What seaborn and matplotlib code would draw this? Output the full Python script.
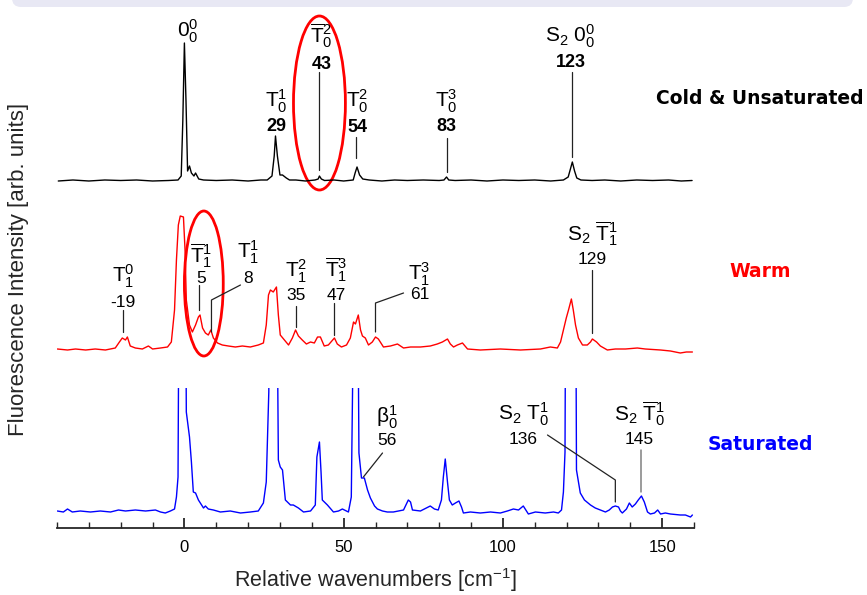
import numpy as np
import pandas as pd
import matplotlib
matplotlib.use("Agg")
import matplotlib.pyplot as plt
import seaborn as sns
from matplotlib.patches import Ellipse, FancyBboxPatch
from matplotlib.ticker import MultipleLocator
from matplotlib.transforms import IdentityTransform

# ---------------- data ----------------
cold_wn = [-39.6, -35, -30, -25, -20, -15, -10, -5, -2, -1, -0.5, 0, 0.5, 1, 1.6, 2.2, 3, 3.5, 4.5, 6,
           10, 15, 20, 24, 26, 27.5, 28.2, 28.6, 29.2, 30, 30.8, 32, 33, 35, 38, 41, 42, 42.4, 43, 44,
           47, 50, 53, 53.6, 54.2, 55, 56, 58, 62, 66, 70, 75, 80, 81.5, 82.3, 83, 85, 90, 95, 100,
           105, 110, 115, 119, 120.5, 121.2, 121.8, 122.5, 123.2, 124.5, 128, 132, 137, 142, 147, 152, 156, 159.4]
cold_int = [0, 1, 0, 1, 0.5, 1, 0, 0.5, 1, 5, 60, 138, 80, 10, 15, 8, 5, 8, 2, 1,
            0.5, 1, 0, 1, 1, 5, 25, 45, 25, 6, 6, 3, 1, 1, 0, 1, 2, 5, 2, 0.5,
            1, 0, 1, 8, 14, 6, 2, 1, 0, 1, 0.5, 1, 0.5, 1, 4, 1, 0.5, 1, 0, 1,
            0.5, 1, 0, 1, 4, 12, 19, 10, 3, 1, 0.5, 1, 0, 1, 0.5, 1, 0, 0.5]

warm_wn = [-39.9, -36.7, -34.2, -31, -28, -24.8, -21.7, -20.4, -19.5, -18.5,
           -17.9, -17, -15.4, -13.2, -11.3, -10, -7.5, -5.3, -4.1, -3.1,
           -2.5, -1.9, -1.3, -0.3, 0.2, 0.6, 1.6, 2.5, 3.5, 4.4,
           4.9, 5.7, 6.6, 7.5, 8.3, 9.1, 10.4, 11.9, 13.8, 16,
           18.2, 20.7, 23.2, 24.8, 25.7, 26.4, 27, 27.9, 28.9, 29.5,
           30.1, 31.4, 32.7, 33.9, 34.9, 35.8, 37, 38.3, 39.6, 40.8,
           41.8, 42.7, 43.9, 45.2, 47.1, 48, 49.3, 50.9, 52.1, 53.1,
           53.7, 54.6, 55.3, 55.9, 56.8, 57.8, 59, 60, 60.9, 62.5,
           64.7, 66.9, 68.8, 71, 74.1, 77.2, 79.4, 81, 82.6, 83.5,
           84.5, 85.7, 87.3, 88.9, 92.9, 99.2, 105.5, 111.8, 114.9, 117.1,
           118.1, 119, 119.9, 120.6, 121.5, 122.1, 122.8, 123.7, 125, 126.5,
           127.5, 128.1, 129.4, 130.6, 132.8, 135.3, 138.5, 142.2, 144.7, 149.5,
           152.6, 155.7, 157.6, 159.5]
warm_int = [1, 0, 1, 0, 1, 0, 2, 8, 12, 10,
            13, 4, 2, 1, 4, 1, 2, 3, 8, 40,
            90, 125, 134, 133, 100, 50, 25, 18, 25, 33,
            35, 22, 17, 15, 20, 12, 7, 5, 4, 3,
            4, 3, 5, 7, 25, 55, 60, 58, 63, 35,
            15, 10, 5, 12, 20, 14, 10, 6, 8, 7,
            13, 13, 4, 5, 12, 6, 3, 5, 12, 28,
            26, 35, 20, 14, 12, 5, 8, 13, 11, 3,
            4, 6, 2, 3, 3, 4, 6, 8, 11, 6,
            3, 5, 7, 1, 0, 1, 0, 1, 3, 2,
            8, 20, 32, 40, 51, 40, 25, 12, 5, 5,
            8, 11, 8, 4, 0, 1, 1, 2, 1, 0,
            -1, -3, -2, -2]

sat_wn = [-39.9, -38, -36.7, -35.2, -32.7, -29.5, -26.4, -23.2, -20.7, -18.5,
          -15.4, -12.2, -9.1, -7.5, -6, -4.4, -3.1, -2.5, -2, -1.6,
          -0.3, 0.3, 0.6, 1.6, 2.2, 2.8, 3.5, 4.4, 5, 6,
          6.6, 7.5, 9.1, 11.3, 14.4, 17.6, 20.7, 23.2, 24.8, 25.7,
          26.5, 27, 28.9, 29.5, 30.1, 30.8, 31.7, 33.3, 34.2, 35.8,
          37.4, 39.6, 41.1, 41.6, 42.4, 42.9, 43.3, 44.9, 46.8, 48.4,
          49.6, 51.5, 52.4, 52.9, 53.4, 54.3, 54.8, 55.6, 56.5, 57.5,
          58.4, 59.7, 60.6, 62.2, 63.7, 65.6, 67.2, 68.8, 69.4, 70.3,
          71, 71.6, 74.1, 76, 77.2, 78.5, 79.7, 80.7, 81.3, 81.9,
          82.6, 83.2, 84.1, 85.1, 86.2, 87, 87.6, 89.8, 92.9, 96.1,
          99.2, 101.4, 103.3, 104.9, 106.4, 108, 110.2, 113.3, 115.9, 117.4,
          118.4, 119, 119.5, 119.9, 122.8, 123.1, 124.3, 125.6, 127.5, 129,
          130.6, 132.2, 133.4, 134.4, 135.3, 136.3, 136.9, 137.5, 138.8, 139.7,
          140.6, 141.6, 142.5, 143.5, 144.4, 145.4, 146.3, 147.6, 148.6, 149.5,
          151, 152.6, 155.7, 157.3, 158.9, 159.5]
sat_int = [1, 0, 3, 0, 1, 0, 1, 0, 2, 1,
           2, 1, 2, 0, -1, 1, 3, 15, 35, 300,
           420, 300, 100, 75, 50, 20, 19, 12, 9, 4,
           6, 3, 2, 0, 1, -1, 0, 1, 9, 30,
           120, 400, 300, 52, 45, 42, 12, 7, 7, 4,
           0, 1, 7, 55, 70, 40, 12, 7, 0, 1,
           3, 0, 15, 150, 400, 300, 59, 34, 34, 22,
           14, 6, 3, 1, 0, 0, 1, 2, 6, 12,
           10, 2, 1, 4, 6, 3, 2, 12, 35, 53,
           30, 12, 7, 9, 11, 5, -1, 0, -1, 0,
           -1, 1, 3, 2, 6, -2, 0, -1, 0, -1,
           2, 20, 60, 400, 300, 42, 19, 12, 7, 4,
           2, 0, 2, 5, 6, 5, 1, -1, 3, 9,
           5, 8, 12, 16, 10, 0, -2, -1, 2, -2,
           -1, -2, -3, -3, -5, -3]

series_names = ["Cold & Unsaturated", "Warm", "Saturated"]

# peak assignment labels
cold_tags = [r"$\mathrm{0}_0^0$", r"$\overline{\mathrm{T}}_0^2$", r"$\mathrm{T}_0^1$",
             r"$\mathrm{T}_0^2$", r"$\mathrm{T}_0^3$", r"$\mathrm{S}_2\ \mathrm{0}_0^0$"]
cold_nums = ["", "43", "29", "54", "83", "123"]
warm_tags = [r"$\mathrm{T}_1^0$", r"$\overline{\mathrm{T}}_1^1$", r"$\mathrm{T}_1^1$",
             r"$\mathrm{T}_1^2$", r"$\overline{\mathrm{T}}_1^3$", r"$\mathrm{T}_1^3$",
             r"$\mathrm{S}_2\ \overline{\mathrm{T}}_1^1$"]
warm_nums = ["-19", "5", "8", "35", "47", "61", "129"]
sat_tags = [r"$\mathrm{\beta}_0^1$", r"$\mathrm{S}_2\ \mathrm{T}_0^1$",
            r"$\mathrm{S}_2\ \overline{\mathrm{T}}_0^1$"]
sat_nums = ["56", "136", "145"]

# ---------------- layout (positions / styles) ----------------
offsets = [347, 178, 16]          # vertical stacking of traces
colors = ["black", "#ff0000", "#0000ff"]
sat_clip_top = 140                # saturated trace is cut off here

cold_lab_pos = [(0.9, 491, None), (43.0, 485, 459), (28.9, 421, 397),
                (54.3, 421, 396), (82.3, 421, 397), (121.2, 486, 461)]
warm_lab_pos = [(-19.2, 246, 221), (5.3, 265, 245), (20.1, 270, 245), (35.2, 251, 228),
                (47.7, 251, 228), (73.8, 248, 229), (128.1, 288, 264)]
sat_lab_pos = [(63.7, 105, 83), (106.4, 108, 84), (142.9, 108, 84)]

leaders = [
    ([42.4, 42.4], [456, 358]), ([54.0, 54.0], [391, 370]),
    ([82.4, 82.4], [390, 356]), ([121.7, 121.7], [456, 371]),
    ([-19.2, -19.2], [218, 196]), ([4.7, 4.7], [243, 218]),
    ([8.5, 8.5, 17.6], [196, 228, 243]), ([34.9, 34.9], [222, 201]),
    ([47.1, 47.1], [225, 193]), ([60, 60, 68.8], [196, 225, 235]),
    ([128.1, 128.1], [258, 195]),
    ([56.2, 62.2], [51, 75]), ([114, 135.3, 135.3], [93, 48, 26]),
]
gray_leaders = [([143.5, 143.5], [78, 36])]
ellipses = [(42.4, 425, 16.3, 174), (6.1, 244.5, 12.2, 145)]

# ---------------- drawing ----------------
sns.set_theme(style="ticks")
plt.rcParams["font.family"] = ["Liberation Sans", "DejaVu Sans"]
plt.rcParams["mathtext.fontset"] = "custom"
plt.rcParams["mathtext.rm"] = "Liberation Sans"
plt.rcParams["mathtext.it"] = "Liberation Sans:italic"
plt.rcParams["mathtext.bf"] = "Liberation Sans:bold"

W, H = 867, 595
fig = plt.figure(figsize=(W / 100, H / 100), dpi=100)
ax = fig.add_axes([57 / W, 67 / H, 637 / W, 518 / H])

# top slide band
band = FancyBboxPatch((12, H - 7), 841, 30, boxstyle="round,pad=0,rounding_size=9",
                      transform=IdentityTransform(), fc="#e8e8f4", ec="none")
fig.add_artist(band)

traces = [(cold_wn, cold_int), (warm_wn, warm_int), (sat_wn, sat_int)]
for (wn, inten), off, col, name in zip(traces, offsets, colors, series_names):
    df = pd.DataFrame({"wn": wn, "I": np.asarray(inten, float) + off})
    sns.lineplot(data=df, x="wn", y="I", ax=ax, color=col, lw=1.0,
                 estimator=None, sort=False, legend=False)
sat_line = ax.lines[-1]
clip = plt.Rectangle((-40, -50), 200, sat_clip_top + 50, transform=ax.transData)
sat_line.set_clip_path(clip)

for xs, ys in leaders:
    ax.plot(xs, ys, color="#222222", lw=0.9, clip_on=False)
for xs, ys in gray_leaders:
    ax.plot(xs, ys, color="#808080", lw=1.1, clip_on=False)

for (cx, cy, w, h) in ellipses:
    ax.add_patch(Ellipse((cx, cy), w, h, fill=False, ec="#ff0000", lw=2.0, clip_on=False))

def put_labels(tags, nums, pos, bold):
    for t, n, (x, b1, b2) in zip(tags, nums, pos):
        ax.text(x, b1, t, ha="center", va="baseline", fontsize=15, color="black")
        if n and b2 is not None:
            ax.text(x, b2, n, ha="center", va="baseline", fontsize=13 if bold else 12.5,
                    fontweight="bold" if bold else "normal", color="black")

put_labels(cold_tags, cold_nums, cold_lab_pos, True)
put_labels(warm_tags, warm_nums, warm_lab_pos, False)
put_labels(sat_tags, sat_nums, sat_lab_pos, False)

side_y = [99, 272, 445]
for name, col, yp in zip(series_names, colors, side_y):
    fig.text(760 / W, 1 - yp / H, name, ha="center", va="center", color=col,
             fontsize=13.5, fontweight="bold", family="DejaVu Sans")

ax.set_xlim(-40, 160)
ax.set_ylim(0, 518)
for s in ["left", "top", "right"]:
    ax.spines[s].set_visible(False)
ax.spines["bottom"].set_linewidth(1.3)
ax.set_yticks([])
ax.xaxis.set_major_locator(MultipleLocator(50))
ax.xaxis.set_minor_locator(MultipleLocator(10))
ax.tick_params(axis="x", which="major", direction="in", length=7, width=1.1, pad=9,
               labelsize=12, colors="black")
ax.tick_params(axis="x", which="minor", direction="in", length=4, width=1.0)
ax.set_xlabel(r"Relative wavenumbers [cm$^{-1}$]", fontsize=15.5)
ax.xaxis.set_label_coords(0.5, -0.074)
ax.set_ylabel("Fluorescence Intensity [arb. units]", fontsize=16)
ax.yaxis.set_label_coords(-0.044, 0.5)
ax.patch.set_alpha(0)

fig.savefig("out.png", dpi=100)
